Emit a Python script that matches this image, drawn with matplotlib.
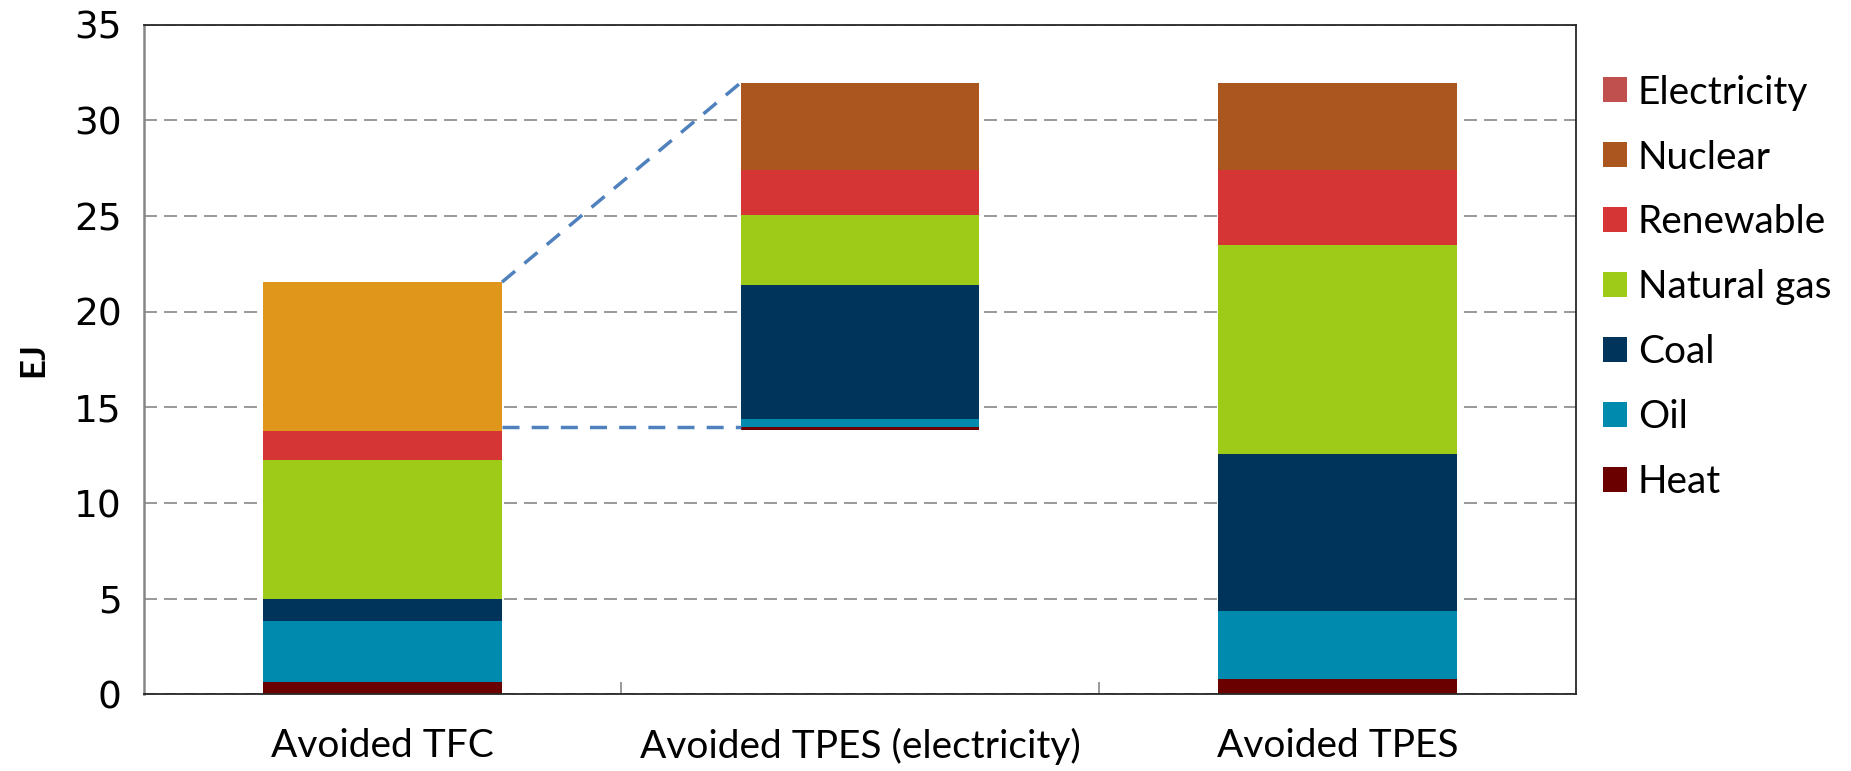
import matplotlib.pyplot as plt
from matplotlib.patches import Patch

# avoided energy by fuel, EJ
categories = ["Avoided TFC", "Avoided TPES (electricity)", "Avoided TPES"]
base = [0.0, 13.82, 0.0]          # floating start of the middle bar
heat = [0.66, 0.14, 0.78]
oil = [3.17, 0.43, 3.59]
coal = [1.14, 7.01, 8.19]
natural_gas = [7.28, 3.66, 10.93]
renewable = [1.51, 2.33, 3.90]
nuclear = [0.0, 4.58, 4.58]
electricity = [7.79, 0.0, 0.0]

series = [
    ("Heat", heat, "#6b0000"),
    ("Oil", oil, "#008aad"),
    ("Coal", coal, "#00345a"),
    ("Natural gas", natural_gas, "#9dcb17"),
    ("Renewable", renewable, "#d53535"),
    ("Nuclear", nuclear, "#ab561e"),
    ("Electricity", electricity, "#c0504d"),
]
ELEC_BAR_COLOR = "#e0961a"

LABEL_FONT = ["Lato", "DejaVu Sans"]

fig = plt.figure(figsize=(18.51, 7.71), dpi=100)
ax = fig.add_axes([0.0778, 0.0995, 0.8514 - 0.0778, 0.9678 - 0.0995])

x = list(range(len(categories)))
bottom = list(base)
for name, vals, color in series:
    c = ELEC_BAR_COLOR if name == "Electricity" else color
    ax.bar(x, vals, width=0.5, bottom=bottom, color=c, linewidth=0, zorder=2)
    bottom = [b + v for b, v in zip(bottom, vals)]

totals = bottom
# connector from TFC electricity block to the TPES (electricity) bar
link_low = base[1] + heat[1]
ax.plot([0.25, 0.75], [totals[0], totals[1]], color="#4f81bd", lw=2.5,
        linestyle=(0, (4.9, 3.5)), zorder=3, clip_on=False)
ax.plot([0.25, 0.75], [link_low, link_low], color="#4f81bd", lw=2.5,
        linestyle=(0, (4.9, 3.5)), zorder=3)

ax.set_xlim(-0.5, 2.5)
ax.set_ylim(0, 35)
ax.set_yticks(range(0, 36, 5))
ax.yaxis.grid(True, color="#888888", lw=1.2, linestyle=(0, (7.8, 4.2)))
ax.set_axisbelow(True)

ax.set_xticks(x)
ax.set_xticklabels(categories, fontsize=28, family=LABEL_FONT)
ax.set_xticks([0.5, 1.5], minor=True)
ax.tick_params(axis="x", which="major", length=0, pad=24)
ax.tick_params(axis="x", which="minor", length=9, direction="in",
               color="#888888", width=1.2)
ax.tick_params(axis="y", length=0, pad=16, labelsize=27)

for side in ["top", "right", "bottom"]:
    ax.spines[side].set_color("#262626")
    ax.spines[side].set_linewidth(1.3)
ax.spines["left"].set_color("#868686")
ax.spines["left"].set_linewidth(1.8)

ax.set_ylabel("EJ", fontsize=25, fontweight="bold", family=LABEL_FONT, labelpad=18)

handles = [Patch(facecolor=color, label=name) for name, _, color in reversed(series)]
fig.legend(handles=handles, loc="upper left", bbox_to_anchor=(0.8575, 0.9235),
           frameon=False, prop={"family": LABEL_FONT, "size": 28},
           handlelength=0.62, handleheight=0.62, handletextpad=0.28,
           labelspacing=0.745, borderaxespad=0)

fig.savefig("out.png", dpi=100)
plt.close(fig)
